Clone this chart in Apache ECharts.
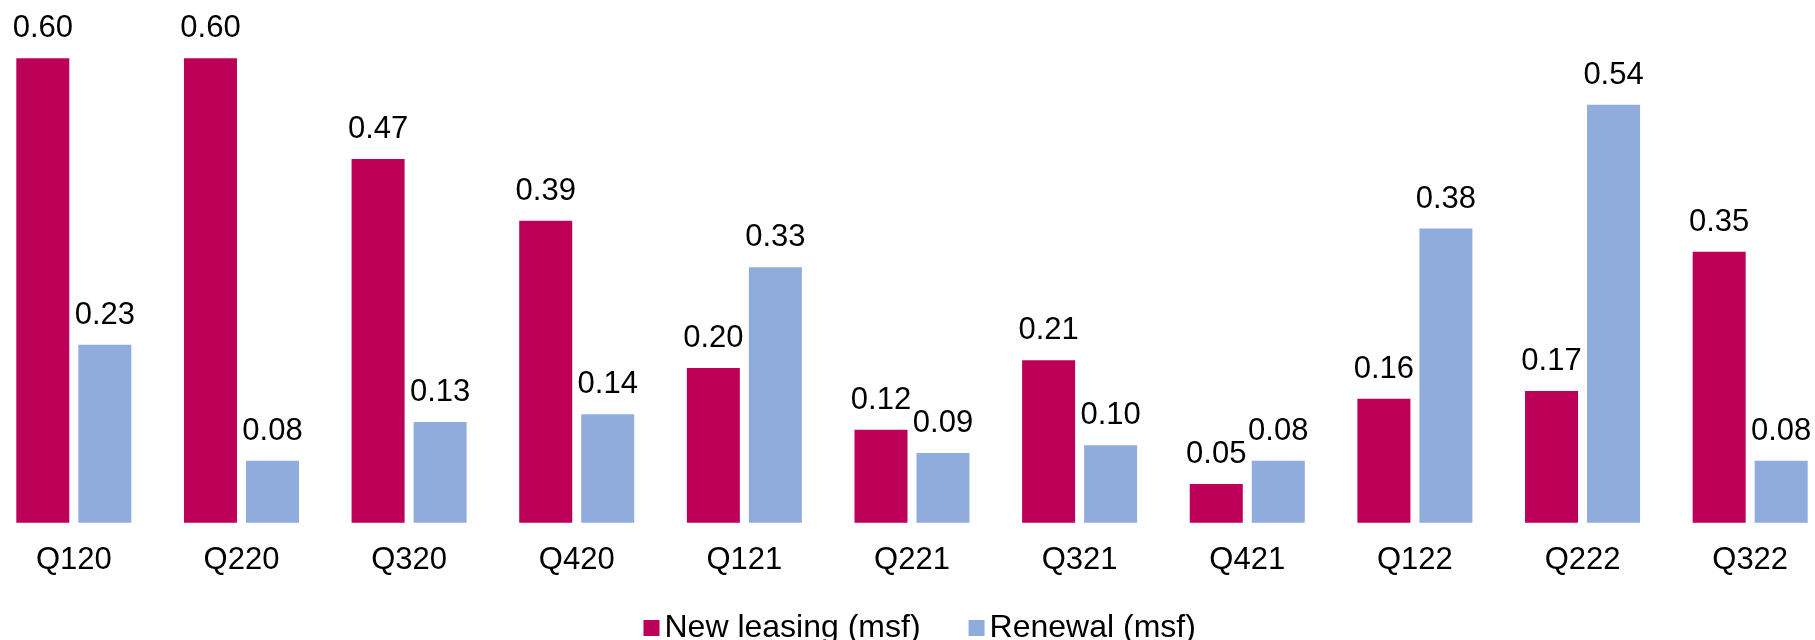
<!DOCTYPE html>
<html>
<head>
<meta charset="utf-8">
<script src="https://cdn.jsdelivr.net/npm/echarts@6/dist/echarts.min.js"></script>
<style>
html,body{margin:0;padding:0;background:#fff;overflow:hidden;width:1815px;height:640px;}
#wrap{position:relative;width:1815px;height:640px;overflow:hidden;}
#chart{position:absolute;left:-10.3px;top:0;width:1844px;height:640px;}
</style>
</head>
<body>
<div id="wrap"><div id="chart"></div></div>
<script>
const categories = ['Q120','Q220','Q320','Q420','Q121','Q221','Q321','Q421','Q122','Q222','Q322'];
const newLeasing = [0.60,0.60,0.47,0.39,0.20,0.12,0.21,0.05,0.16,0.17,0.35];
const renewal = [0.23,0.08,0.13,0.14,0.33,0.09,0.10,0.08,0.38,0.54,0.08];
const seriesNames = ['New leasing (msf)','Renewal (msf)'];

const FONT = "'Liberation Sans', Arial, sans-serif";
const chart = echarts.init(document.getElementById('chart'), null, {renderer:'canvas'});
const labelCfg = {
  show: true,
  position: 'top',
  distance: 14,
  fontSize: 31,
  fontFamily: FONT,
  color: '#000',
  formatter: p => p.value.toFixed(2)
};
chart.setOption({
  animation: false,
  backgroundColor: '#fff',
  grid: {left: 0, right: 0, top: 58.3, bottom: 117.3, containLabel: false},
  legend: {
    data: seriesNames,
    left: 648.5,
    top: 607,
    itemWidth: 16,
    itemHeight: 16,
    itemGap: 48,
    icon: 'rect',
    textStyle: {fontSize: 32, fontFamily: FONT, color: '#000'}
  },
  xAxis: {
    type: 'category',
    data: categories,
    axisLine: {show: false},
    axisTick: {show: false},
    axisLabel: {fontSize: 31, fontFamily: FONT, color: '#000', margin: 22}
  },
  yAxis: {
    type: 'value',
    min: 0,
    max: 0.6,
    show: false,
    splitLine: {show: false}
  },
  series: [
    {
      name: seriesNames[0],
      type: 'bar',
      data: newLeasing,
      barWidth: 53,
      barGap: '17%',
      itemStyle: {color: '#BC0058'},
      label: labelCfg
    },
    {
      name: seriesNames[1],
      type: 'bar',
      data: renewal,
      barWidth: 53,
      barGap: '17%',
      itemStyle: {color: '#8FACDC'},
      label: labelCfg
    }
  ]
});
</script>
</body>
</html>
